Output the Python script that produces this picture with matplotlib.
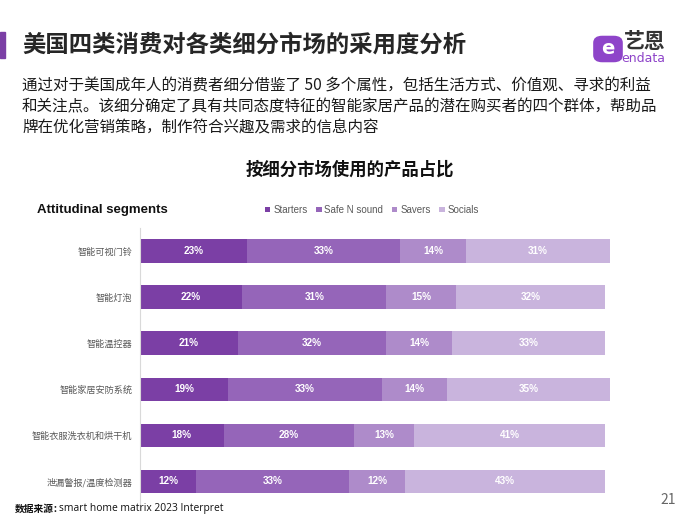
import matplotlib
matplotlib.use("Agg")
import matplotlib.pyplot as plt
from matplotlib.patches import Rectangle, FancyBboxPatch
import numpy as np

plt.rcParams['font.family'] = ['Noto Sans CJK SC', 'DejaVu Sans']

categories = ["智能可视门铃", "智能灯泡", "智能温控器", "智能家居安防系统", "智能衣服洗衣机和烘干机", "泄漏警报/温度检测器"]
series_names = ["Starters", "Safe N sound", "Savers", "Socials"]
starters = [23, 22, 21, 19, 18, 12]
safe_n_sound = [33, 31, 32, 33, 28, 33]
savers = [14, 15, 14, 14, 13, 12]
socials = [31, 32, 33, 35, 41, 43]
colors = ["#7B3FA5", "#9565B9", "#AE8BCA", "#C9B4DD"]

title = "美国四类消费对各类细分市场的采用度分析"
para = ["通过对于美国成年人的消费者细分借鉴了 50 多个属性，包括生活方式、价值观、寻求的利益",
        "和关注点。该细分确定了具有共同态度特征的智能家居产品的潜在购买者的四个群体，帮助品",
        "牌在优化营销策略，制作符合兴趣及需求的信息内容"]
subtitle = "按细分市场使用的产品占比"

W, H = 700, 525
fig = plt.figure(figsize=(7, 5.25), dpi=100)
fig.patch.set_facecolor("white")

def fx(x): return x / W
def fy(y): return 1 - y / H

# accent bar
fig.patches.append(Rectangle((0, fy(58)), fx(5), (58 - 32) / H, transform=fig.transFigure,
                             color="#7B3FA5", zorder=5))
fig.text(fx(22), fy(45), title, fontsize=16.8, fontweight="bold", color="#262626",
         va="center", ha="left")
for i, line in enumerate(para):
    fig.text(fx(22), fy(86 + i * 21), line, fontsize=11.2, color="#1a1a1a", va="center", ha="left")
fig.text(fx(350), fy(170), subtitle, fontsize=12.5, fontweight="bold", color="#111111",
         va="center", ha="center")

# logo
fig.patches.append(FancyBboxPatch((fx(596), fy(60)), fx(24), 22 / H, boxstyle="round,pad=0.003,rounding_size=0.012",
                                  transform=fig.transFigure, color="#8E44C9", zorder=5))
fig.text(fx(608), fy(48), "e", fontsize=14, fontweight="bold", color="white", ha="center", va="center",
         family=["DejaVu Sans"], zorder=6)
fig.text(fx(624), fy(41), "艺恩", fontsize=15, fontweight="bold", color="#333333", ha="left", va="center")
fig.text(fx(621), fy(58), "endata", fontsize=9, color="#8E44C9", ha="left", va="center",
         family=["DejaVu Sans"])

# chart
ax = fig.add_axes([fx(140), fy(510), fx(612 - 140), (510 - 228) / H])
y = np.arange(len(categories))
data = [starters, safe_n_sound, savers, socials]
left = np.zeros(len(categories))
for name, vals, c in zip(series_names, data, colors):
    bars = ax.barh(y, vals, left=left, height=0.51, color=c, label=name, edgecolor="none")
    ax.bar_label(bars, labels=[f"{v}%" for v in vals], label_type="center", color="white",
                 fontsize=7.2, fontweight="bold", family=["Liberation Sans", "DejaVu Sans"])
    left += np.array(vals)

ax.set_xlim(0, 101.5)
ax.set_ylim(5.62, -0.5)
ax.set_yticks(y)
ax.set_yticklabels(categories, fontsize=6.6, color="#595959")
ax.tick_params(axis="y", length=0, pad=5.5)
ax.set_xticks([])
for s in ["top", "right", "bottom"]:
    ax.spines[s].set_visible(False)
ax.spines["left"].set_color("#D9D9D9")
ax.spines["left"].set_linewidth(0.8)

fig.text(fx(37), fy(210), "Attitudinal segments", fontsize=9.5, fontweight="bold", color="#111111",
         va="center", ha="left", family=["Liberation Sans", "DejaVu Sans"])
leg = fig.legend(loc="center", bbox_to_anchor=(fx(372), fy(210)), ncol=4, frameon=False,
                 handlelength=0.55, handleheight=0.55, handletextpad=0.3, columnspacing=0.9,
                 prop={"family": ["Liberation Sans", "DejaVu Sans"], "size": 7})
for t in leg.get_texts():
    t.set_color("#595959")

fig.text(fx(15), fy(509), "数据来源：", fontsize=7, fontweight="bold", color="#111111", va="center", ha="left")
fig.text(fx(59), fy(509), "smart home matrix 2023 Interpret", fontsize=7.4, color="#111111", va="center",
         ha="left", family=["Open Sans", "DejaVu Sans"])
fig.text(fx(668), fy(500), "21", fontsize=10, color="#666666", va="center", ha="center")

fig.savefig("out.png", dpi=100, facecolor="white")
